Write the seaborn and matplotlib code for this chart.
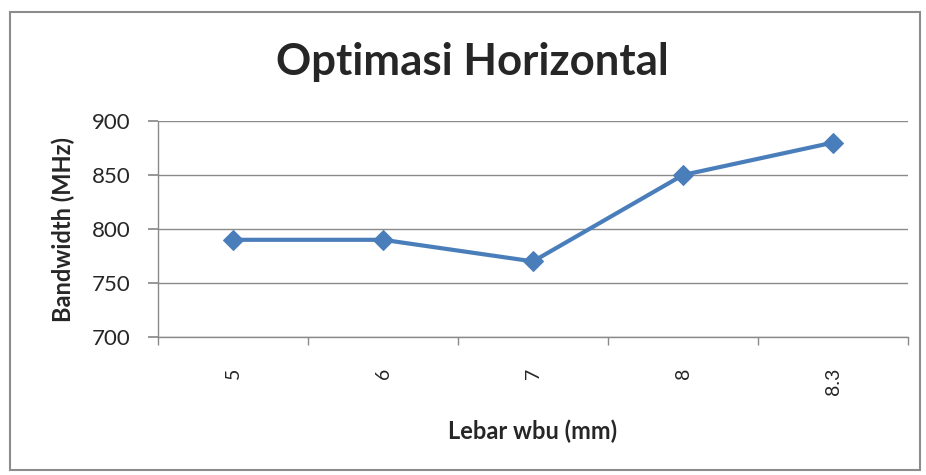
import matplotlib
matplotlib.use("Agg")
import matplotlib.pyplot as plt
import seaborn as sns
import pandas as pd
from matplotlib.patches import Rectangle

categories = ["5", "6", "7", "8", "8.3"]
bandwidth = [790, 790, 770, 850, 880]
y_ticks = [700, 750, 800, 850, 900]

sns.set_theme(style="white")
plt.rcParams['font.family'] = ['Lato', 'DejaVu Sans']

df = pd.DataFrame({"Lebar": categories, "Bandwidth": bandwidth})

fig = plt.figure(figsize=(9.26, 4.75), dpi=100)
fig.patch.set_facecolor("white")
fig.patches.append(Rectangle((10/926, 5/475), 910/926, 458/475, transform=fig.transFigure,
                             fill=False, edgecolor="#8c8c8c", linewidth=1.5, zorder=0))

ax = fig.add_axes([158/926, 1-337/475, 750/926, 216/475])
sns.lineplot(data=df, x="Lebar", y="Bandwidth", ax=ax, color="#4a7ebb", linewidth=3,
             marker="D", markersize=10, markeredgecolor="#4a7ebb", sort=False)

ax.set_xlim(-0.5, len(categories) - 0.5)
ax.set_ylim(700, 900)
ax.set_yticks(y_ticks)
ax.yaxis.grid(True, color="#8a8a8a", linewidth=1)
ax.xaxis.grid(False)
for s in ["top", "right"]:
    ax.spines[s].set_visible(False)
ax.spines["left"].set_color("#8a8a8a")
ax.spines["bottom"].set_color("#8a8a8a")
ax.spines["left"].set_linewidth(1)
ax.spines["bottom"].set_linewidth(1)

ax.set_xticks(range(len(categories)))
ax.set_xticklabels(categories, rotation=90, fontsize=14)
ax.set_xticks([i - 0.5 for i in range(len(categories) + 1)], minor=True)
ax.tick_params(axis="x", which="major", length=0, pad=22)
ax.tick_params(axis="x", which="minor", length=6, color="#8a8a8a", direction="out", bottom=True)
ax.tick_params(axis="y", length=7, color="#8a8a8a", direction="out", left=True, labelsize=16, pad=13)

ax.set_xlabel("Lebar wbu (mm)", fontsize=17, fontweight="bold", labelpad=18)
ax.set_ylabel("Bandwidth (MHz)", fontsize=17, fontweight="bold", labelpad=12)
fig.text(472/926, 1-62/475, "Optimasi Horizontal", ha="center", va="center",
         fontsize=31.5, fontweight="bold")

fig.savefig("out.png", dpi=100)
